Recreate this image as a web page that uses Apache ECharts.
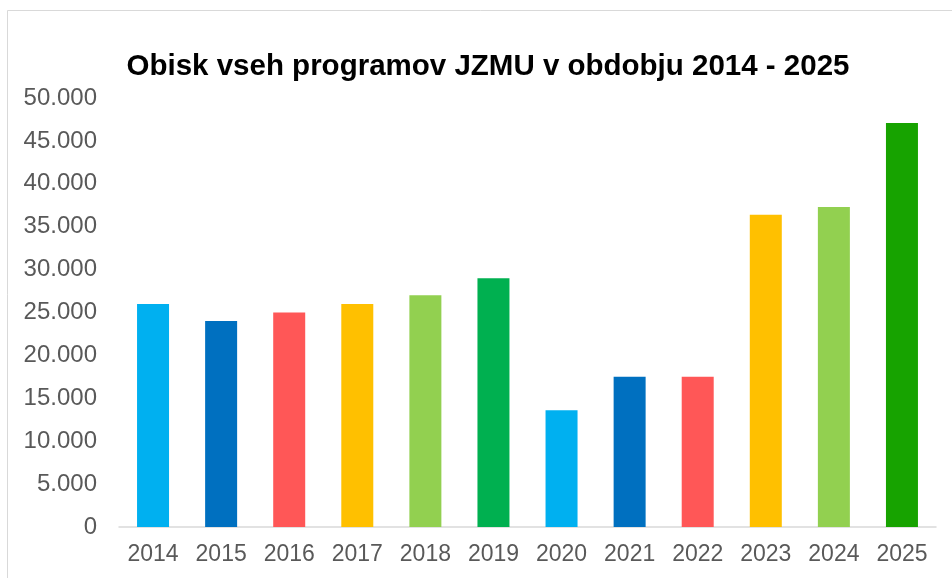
<!DOCTYPE html>
<html>
<head>
    <meta charset="utf-8">
    <style>
        html, body { margin: 0; padding: 0; background: #fff; }
        #chart-container { width: 952px; height: 578px; }
    </style>
</head>
<body>
    <div id="chart-container"></div>

    <script type="text/javascript" src="https://cdn.jsdelivr.net/npm/echarts@6/dist/echarts.min.js"></script>
    <script type="text/javascript">
        // data
        var years = ['2014', '2015', '2016', '2017', '2018', '2019', '2020', '2021', '2022', '2023', '2024', '2025'];
        var visitors = [26000, 24000, 25000, 26000, 27000, 29000, 13600, 17500, 17500, 36400, 37300, 47100];
        var barColors = ['#00B0F0', '#0070C0', '#FF5757', '#FFC000', '#92D050', '#00B050',
                         '#00B0F0', '#0070C0', '#FF5757', '#FFC000', '#92D050', '#17A300'];

        var chartDom = document.getElementById('chart-container');
        var myChart = echarts.init(chartDom);

        var option = {
            animation: false,
            backgroundColor: '#fff',
            textStyle: { fontFamily: 'Liberation Sans, Arial, sans-serif' },
            title: {
                text: 'Obisk vseh programov JZMU v obdobju 2014 - 2025',
                left: 483,
                top: 47,
                textAlign: 'center',
                textStyle: { fontSize: 29.5, fontWeight: 'bold', color: '#000' }
            },
            graphic: [{
                type: 'rect',
                shape: { x: 7.5, y: 10.5, width: 1000, height: 1000 },
                style: { fill: 'none', stroke: '#d9d9d9', lineWidth: 1 },
                silent: true
            }],
            grid: { left: 119, right: 16, top: 98, bottom: 51 },
            xAxis: {
                type: 'category',
                data: years,
                axisLine: { lineStyle: { color: '#d9d9d9', width: 1.5 } },
                axisTick: { show: false },
                axisLabel: { color: '#595959', fontSize: 23, margin: 16 }
            },
            yAxis: {
                type: 'value',
                min: 0,
                max: 50000,
                interval: 5000,
                splitLine: { show: false },
                axisLine: { show: false },
                axisTick: { show: false },
                axisLabel: {
                    color: '#595959',
                    fontSize: 24,
                    margin: 22,
                    formatter: function (v) {
                        return v === 0 ? '0' : (v / 1000).toFixed(0) + '.000';
                    }
                }
            },
            series: [{
                type: 'bar',
                barWidth: 32,
                data: visitors.map(function (v, i) {
                    return { value: v, itemStyle: { color: barColors[i] } };
                })
            }]
        };
        myChart.setOption(option);
    </script>
</body>
</html>
